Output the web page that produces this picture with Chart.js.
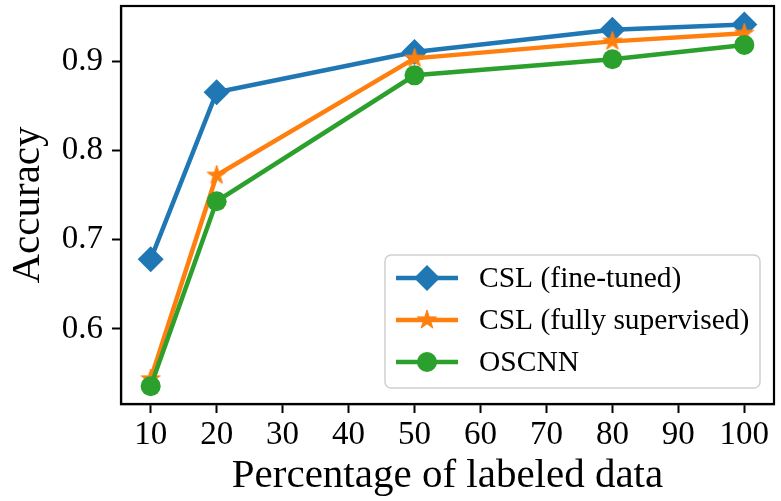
<!DOCTYPE html>
<html>
<head>
<meta charset="utf-8">
<script src="https://cdn.jsdelivr.net/npm/chart.js@4/dist/chart.umd.min.js"></script>
<style>
  html, body { margin: 0; padding: 0; background: #fff; }
  #wrap { width: 781px; height: 501px; }
</style>
</head>
<body>
<div id="wrap"><canvas id="chart" width="781" height="501"></canvas></div>
<script>
// ── DATA ───────────────────────────────────────────────────────
const LABELED_PCT   = [10, 20, 50, 80, 100];
const CSL_FINE      = [0.678, 0.865, 0.910, 0.935, 0.941];
const CSL_FULL      = [0.544, 0.772, 0.903, 0.922, 0.931];
const OSCNN         = [0.536, 0.743, 0.884, 0.902, 0.918];
const X_TICKS       = [10, 20, 30, 40, 50, 60, 70, 80, 90, 100];
const Y_TICKS       = [0.6, 0.7, 0.8, 0.9];
const SERIES_NAMES  = ['CSL (fine-tuned)', 'CSL (fully supervised)', 'OSCNN'];

const BLUE = '#1f77b4', ORANGE = '#ff7f0e', GREEN = '#2ca02c';
const SERIF = '"Liberation Serif", "Times New Roman", serif';

// filled 5-point star like matplotlib's '*'
function makeStar(color, R) {
  const c = document.createElement('canvas');
  const s = Math.ceil(2 * R + 4);
  c.width = s; c.height = s;
  const g = c.getContext('2d');
  const r = R * 0.382;
  g.beginPath();
  for (let i = 0; i < 10; i++) {
    const rad = (i % 2 === 0) ? R : r;
    const a = -Math.PI / 2 + i * Math.PI / 5;
    const px = s / 2 + rad * Math.cos(a), py = s / 2 + rad * Math.sin(a);
    i === 0 ? g.moveTo(px, py) : g.lineTo(px, py);
  }
  g.closePath();
  g.fillStyle = color; g.fill();
  g.lineWidth = 1; g.strokeStyle = color; g.stroke();
  return c;
}
const STAR = makeStar(ORANGE, 10);

const pts = ys => LABELED_PCT.map((x, i) => ({ x, y: ys[i] }));

// frame on all four sides (matplotlib spines)
const framePlugin = {
  id: 'frame',
  afterDatasetsDraw(chart) {
    const { ctx, chartArea: a } = chart;
    ctx.save();
    ctx.strokeStyle = '#000'; ctx.lineWidth = 2.2;
    ctx.strokeRect(a.left, a.top, a.right - a.left, a.bottom - a.top);
    ctx.restore();
  }
};

// legend inside the plot, lower right
const legendPlugin = {
  id: 'innerLegend',
  afterDraw(chart) {
    const { ctx } = chart;
    const bx = 385, by = 255, bw = 375, bh = 133, rr = 6;
    ctx.save();
    ctx.beginPath();
    ctx.roundRect(bx, by, bw, bh, rr);
    ctx.fillStyle = 'rgba(255,255,255,0.8)'; ctx.fill();
    ctx.strokeStyle = '#d0d0d0'; ctx.lineWidth = 1.5; ctx.stroke();

    const rows = [278, 320, 362];
    const colors = [BLUE, ORANGE, GREEN];
    rows.forEach((y, i) => {
      ctx.strokeStyle = colors[i]; ctx.lineWidth = 4.5;
      ctx.beginPath(); ctx.moveTo(396, y); ctx.lineTo(458, y); ctx.stroke();
      ctx.fillStyle = colors[i];
      if (i === 0) {
        ctx.beginPath();
        ctx.moveTo(427, y - 13); ctx.lineTo(440, y); ctx.lineTo(427, y + 13); ctx.lineTo(414, y);
        ctx.closePath(); ctx.fill();
      } else if (i === 1) {
        ctx.drawImage(STAR, 427 - STAR.width / 2, y - STAR.height / 2);
      } else {
        ctx.beginPath(); ctx.arc(427, y, 10, 0, Math.PI * 2); ctx.fill();
      }
      ctx.fillStyle = '#000';
      ctx.font = '29.5px ' + SERIF;
      ctx.textBaseline = 'alphabetic'; ctx.textAlign = 'left';
      ctx.fillText(SERIES_NAMES[i], 479, y + 9);
    });
    ctx.restore();
  }
};

const TICK_FONT  = { family: SERIF, size: 33 };
const TITLE_FONT = { family: SERIF, size: 41 };

new Chart(document.getElementById('chart').getContext('2d'), {
  type: 'line',
  data: {
    datasets: [
      {
        label: SERIES_NAMES[0], data: pts(CSL_FINE), order: 3,
        borderColor: BLUE, backgroundColor: BLUE, borderWidth: 4.5,
        pointStyle: 'rectRot', pointRadius: 13, pointHoverRadius: 13, pointBorderWidth: 0,
      },
      {
        label: SERIES_NAMES[1], data: pts(CSL_FULL), order: 2,
        borderColor: ORANGE, backgroundColor: ORANGE, borderWidth: 4.5,
        pointStyle: STAR, pointRadius: 10, pointBorderWidth: 0,
      },
      {
        label: SERIES_NAMES[2], data: pts(OSCNN), order: 1,
        borderColor: GREEN, backgroundColor: GREEN, borderWidth: 4.5,
        pointStyle: 'circle', pointRadius: 10, pointHoverRadius: 10, pointBorderWidth: 0,
      },
    ],
  },
  options: {
    responsive: false,
    animation: false,
    devicePixelRatio: 1,
    layout: { autoPadding: false, padding: { top: 6, right: 7, left: 0, bottom: 0 } },
    plugins: { legend: { display: false }, tooltip: { enabled: false } },
    elements: { line: { tension: 0 } },
    scales: {
      x: {
        type: 'linear', min: 5.5, max: 104.5,
        afterBuildTicks: s => { s.ticks = X_TICKS.map(v => ({ value: v })); },
        afterFit: s => { s.height = 97; s.paddingLeft = 0; s.paddingRight = 0; },
        ticks: { color: '#000', font: TICK_FONT, padding: 3, maxRotation: 0 },
        grid: { drawOnChartArea: false, drawTicks: true, tickLength: 9, tickWidth: 2, tickColor: '#000' },
        border: { color: '#000', width: 2.2 },
        title: { display: true, text: 'Percentage of labeled data', color: '#000', font: TITLE_FONT, padding: { bottom: 0.2, top: 0 } },
      },
      y: {
        type: 'linear', min: 0.516, max: 0.9616,
        afterBuildTicks: s => { s.ticks = Y_TICKS.map(v => ({ value: v })); },
        afterFit: s => { s.width = 121; s.paddingTop = 0; s.paddingBottom = 0; },
        ticks: { color: '#000', font: TICK_FONT, padding: 9, callback: v => v.toFixed(1) },
        grid: { drawOnChartArea: false, drawTicks: true, tickLength: 9, tickWidth: 2, tickColor: '#000' },
        border: { color: '#000', width: 2.2 },
        title: { display: true, text: 'Accuracy', color: '#000', font: TITLE_FONT, padding: { top: 3.6, bottom: 0 } },
      },
    },
  },
  plugins: [framePlugin, legendPlugin],
});
</script>
</body>
</html>
